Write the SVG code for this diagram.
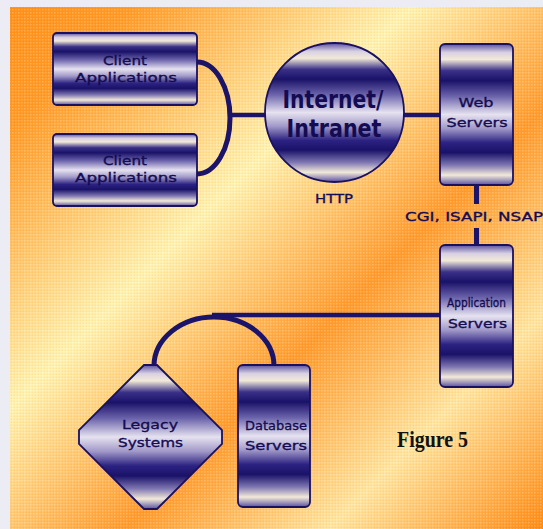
<svg xmlns="http://www.w3.org/2000/svg" width="543" height="529" viewBox="0 0 543 529">
  <defs>
    <!-- diagonal orange / pale-yellow backdrop -->
    <linearGradient id="bg" gradientUnits="userSpaceOnUse" x1="0" y1="0" x2="536" y2="536">
      <stop offset="0" stop-color="#ff8f18"/>
      <stop offset="0.13" stop-color="#ff9a26"/>
      <stop offset="0.39" stop-color="#fff4b4"/>
      <stop offset="0.61" stop-color="#ff9a2c"/>
      <stop offset="0.8" stop-color="#ffe6a2"/>
      <stop offset="1" stop-color="#ff8a12"/>
    </linearGradient>
    <!-- dotted screen over the backdrop -->
    <pattern id="dots" width="3" height="3" patternUnits="userSpaceOnUse">
      <rect x="0" y="0" width="1.5" height="1.5" fill="#ffffff" opacity="0.22"/>
      <rect x="1.5" y="1.5" width="1.5" height="1.5" fill="#ff7a00" opacity="0.12"/>
    </pattern>
    <!-- banded metallic fill shared by every node -->
    <linearGradient id="band" x1="0" y1="0" x2="0" y2="1">
      <stop offset="0" stop-color="#5a50a0"/>
      <stop offset="0.06" stop-color="#d8d0e2"/>
      <stop offset="0.11" stop-color="#f2ead8"/>
      <stop offset="0.19" stop-color="#3a3088"/>
      <stop offset="0.26" stop-color="#1a1268"/>
      <stop offset="0.37" stop-color="#6a62aa"/>
      <stop offset="0.5" stop-color="#e6e2f0"/>
      <stop offset="0.6" stop-color="#a098c8"/>
      <stop offset="0.7" stop-color="#2c2282"/>
      <stop offset="0.77" stop-color="#1a1268"/>
      <stop offset="0.86" stop-color="#8078b2"/>
      <stop offset="0.93" stop-color="#f2ead8"/>
      <stop offset="1" stop-color="#5a50a0"/>
    </linearGradient>
    <style>
      .node { fill: url(#band); stroke: #1a1060; stroke-width: 1.8; }
      .lbl { font-family: "DejaVu Sans", "Liberation Sans", sans-serif; font-size: 13px; fill: #140c52; stroke: #140c52; stroke-width: 0.35; text-anchor: middle; }
      .big { font-family: "DejaVu Sans", "Liberation Sans", sans-serif; font-size: 24px; font-weight: bold; fill: #140c52; text-anchor: middle; }
      .note { font-family: "DejaVu Sans", "Liberation Sans", sans-serif; font-size: 13px; fill: #140c52; stroke: #140c52; stroke-width: 0.35; text-anchor: middle; }
      .wire { fill: none; stroke: #1c1468; }
      .fig { font-family: "Liberation Serif", "Times New Roman", serif; font-size: 23px; font-weight: bold; fill: #111111; }
    </style>
  </defs>

  <!-- page margin and backdrop -->
  <rect x="0" y="0" width="543" height="529" fill="#ececf4"/>
  <rect x="10" y="7" width="533" height="522" fill="url(#bg)"/>
  <rect x="10" y="7" width="533" height="522" fill="url(#dots)"/>

  <!-- connectors -->
  <g id="connectors">
    <path class="wire" stroke-width="5" d="M197,62 A33,56 0 0 1 197,174"/>
    <line class="wire" stroke-width="4.5" x1="229" y1="115" x2="266" y2="115"/>
    <line class="wire" stroke-width="4.5" x1="403" y1="115" x2="441" y2="115"/>
    <line class="wire" stroke-width="5" x1="476.5" y1="185" x2="476.5" y2="204"/>
    <line class="wire" stroke-width="5" x1="476.5" y1="228" x2="476.5" y2="246"/>
    <line class="wire" stroke-width="4.5" x1="212" y1="315" x2="441" y2="315"/>
    <path class="wire" stroke-width="5" d="M154,366 A60,49 0 0 1 274,366"/>
  </g>

  <g id="client1">
    <rect class="node" x="53" y="33" width="144" height="72" rx="4"/>
    <text class="lbl" x="125" y="65" textLength="44" lengthAdjust="spacingAndGlyphs">Client</text>
    <text class="lbl" x="126" y="82" textLength="102" lengthAdjust="spacingAndGlyphs">Applications</text>
  </g>

  <g id="client2">
    <rect class="node" x="53" y="134" width="144" height="72" rx="4"/>
    <text class="lbl" x="125" y="165" textLength="44" lengthAdjust="spacingAndGlyphs">Client</text>
    <text class="lbl" x="126" y="182" textLength="102" lengthAdjust="spacingAndGlyphs">Applications</text>
  </g>

  <g id="internet">
    <circle class="node" cx="334.5" cy="112.5" r="69.5"/>
    <text class="big" x="333" y="108" textLength="101" lengthAdjust="spacingAndGlyphs">Internet/</text>
    <text class="big" x="334" y="137" textLength="95" lengthAdjust="spacingAndGlyphs">Intranet</text>
    <text class="note" x="334" y="203" textLength="38" lengthAdjust="spacingAndGlyphs">HTTP</text>
  </g>

  <g id="web-servers">
    <rect class="node" x="440" y="44" width="73" height="141" rx="5"/>
    <text class="lbl" x="476" y="107" textLength="35" lengthAdjust="spacingAndGlyphs">Web</text>
    <text class="lbl" x="477" y="127" textLength="61" lengthAdjust="spacingAndGlyphs">Servers</text>
  </g>

  <g id="gateway-label">
    <text class="note" x="474" y="221" font-size="14" textLength="138" lengthAdjust="spacingAndGlyphs">CGI, ISAPI, NSAP</text>
  </g>

  <g id="app-servers">
    <rect class="node" x="440" y="245" width="73" height="142" rx="5"/>
    <text class="lbl" x="476.5" y="307" font-size="12" textLength="59" lengthAdjust="spacingAndGlyphs">Application</text>
    <text class="lbl" x="477.5" y="328" textLength="59" lengthAdjust="spacingAndGlyphs">Servers</text>
  </g>

  <g id="legacy">
    <path class="node" d="M144,365 L157,365 L222,430 L222,444 L157,509 L144,509 L79,444 L79,430 Z"/>
    <text class="lbl" x="150" y="429" textLength="56" lengthAdjust="spacingAndGlyphs">Legacy</text>
    <text class="lbl" x="150.5" y="447" textLength="65" lengthAdjust="spacingAndGlyphs">Systems</text>
  </g>

  <g id="database">
    <rect class="node" x="238" y="365" width="72" height="142" rx="5"/>
    <text class="lbl" x="276" y="430" textLength="62" lengthAdjust="spacingAndGlyphs">Database</text>
    <text class="lbl" x="276" y="450" textLength="62" lengthAdjust="spacingAndGlyphs">Servers</text>
  </g>

  <text class="fig" x="397" y="447" textLength="71" lengthAdjust="spacingAndGlyphs">Figure 5</text>
</svg>
